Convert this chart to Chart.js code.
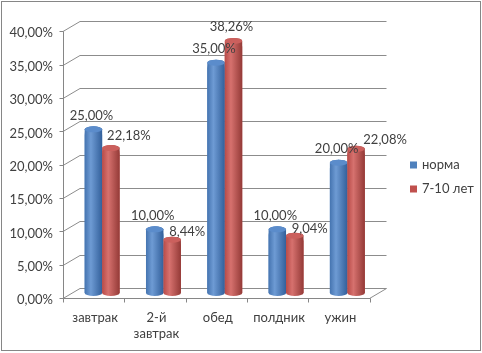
<!DOCTYPE html>
<html>
<head>
<meta charset="utf-8">
<script src="https://cdn.jsdelivr.net/npm/chart.js@4/dist/chart.umd.min.js"></script>
<style>
  html, body { margin: 0; padding: 0; background: #fff; }
  #wrap { width: 482px; height: 353px; position: relative; }
</style>
</head>
<body>
<div id="wrap"><canvas id="chart"></canvas></div>
<script>
const categories = ['завтрак', ['2-й', 'завтрак'], 'обед', 'полдник', 'ужин'];
const seriesNames = ['норма', '7-10 лет'];
const normaValues = [25, 10, 35, 10, 20];
const ageValues = [22.18, 8.44, 38.26, 9.04, 22.08];
const yMin = 0, yMax = 40, yStep = 5;

// hand nudges for the red labels (Excel had them dragged about)
const redLabelShift = [[20, 2], [17, 6], [0, 0], [17, 7], [31, 5.5]];

const palette = [
  { base: '#4F81BD', left: '#4574b0', light: '#6e9bd4', right: '#33609b', cap: '#5b8ccb' },
  { base: '#C0504D', left: '#b84b48', light: '#d6716e', right: '#943a37', cap: '#cb605d' }
];

Chart.defaults.font.family = 'Lato, "Liberation Sans", sans-serif';
Chart.defaults.font.size = 13;
Chart.defaults.color = '#404040';

const fmt = v => v.toFixed(2).replace('.', ',') + '%';
const DEPTH_X = 8.5, DEPTH_Y = 5;

const frame = {
  id: 'frame',
  beforeDatasetsDraw(chart) {
    const ctx = chart.ctx, y = chart.scales.y, x = chart.scales.x;
    const L = chart.chartArea.left, R = chart.chartArea.right;
    ctx.save();
    ctx.lineWidth = 1;
    ctx.strokeStyle = '#8c8c8c';
    for (let v = yMin; v <= yMax; v += yStep) {
      const py = y.getPixelForValue(v);
      ctx.beginPath();
      ctx.moveTo(L - DEPTH_X, Math.round(py + DEPTH_Y) + 0.5);
      ctx.lineTo(L + DEPTH_X, Math.round(py - DEPTH_Y) + 0.5);
      ctx.lineTo(R + DEPTH_X, Math.round(py - DEPTH_Y) + 0.5);
      ctx.stroke();
    }
    // right floor edge
    const p0 = y.getPixelForValue(0);
    ctx.beginPath();
    ctx.moveTo(R - DEPTH_X, Math.round(p0 + DEPTH_Y) + 0.5);
    ctx.lineTo(R + DEPTH_X, Math.round(p0 - DEPTH_Y) + 0.5);
    ctx.stroke();
    // front axes
    ctx.strokeStyle = '#868686';
    const fx = Math.round(L - DEPTH_X) + 0.5;
    const fy0 = Math.round(p0 + DEPTH_Y) + 0.5;
    const fyTop = Math.round(y.getPixelForValue(yMax) + DEPTH_Y) + 0.5;
    ctx.beginPath();
    ctx.moveTo(fx, fyTop); ctx.lineTo(fx, fy0);
    ctx.lineTo(Math.round(R - DEPTH_X) + 0.5, fy0);
    for (let v = yMin; v <= yMax; v += yStep) {
      const py = Math.round(y.getPixelForValue(v) + DEPTH_Y) + 0.5;
      ctx.moveTo(fx - 4, py); ctx.lineTo(fx, py);
    }
    const n = categories.length, w = (R - L) / n;
    for (let i = 0; i <= n; i++) {
      const px = Math.round(L + i * w - DEPTH_X) + 0.5;
      ctx.moveTo(px, fy0); ctx.lineTo(px, fy0 + 4);
    }
    ctx.stroke();
    ctx.restore();
  },
  afterDatasetsDraw(chart) {
    const ctx = chart.ctx;
    ctx.save();
    chart.data.datasets.forEach((ds, di) => {
      const pal = palette[di];
      chart.getDatasetMeta(di).data.forEach((bar, i) => {
        const cx = bar.x, rx = bar.width / 2, ry = 3;
        const top = bar.y, base = bar.base;
        const g = ctx.createLinearGradient(cx - rx, 0, cx + rx, 0);
        g.addColorStop(0, pal.left);
        g.addColorStop(0.35, pal.light);
        g.addColorStop(1, pal.right);
        ctx.beginPath();
        ctx.ellipse(cx, top + ry, rx, ry, 0, Math.PI, 0);
        ctx.lineTo(cx + rx, base);
        ctx.ellipse(cx, base, rx, ry, 0, 0, Math.PI);
        ctx.closePath();
        ctx.fillStyle = g;
        ctx.fill();
        ctx.beginPath();
        ctx.ellipse(cx, top + ry, rx, ry, 0, 0, Math.PI * 2);
        ctx.fillStyle = pal.cap;
        ctx.fill();
      });
    });
    // value labels
    ctx.font = '13px ' + Chart.defaults.font.family;
    ctx.fillStyle = '#404040';
    ctx.textAlign = 'center';
    ctx.textBaseline = 'middle';
    chart.data.datasets.forEach((ds, di) => {
      chart.getDatasetMeta(di).data.forEach((bar, i) => {
        let dx = -2, dy = -11;
        if (di === 1) { dx += redLabelShift[i][0]; dy += redLabelShift[i][1]; }
        ctx.fillText(fmt(ds.data[i]), bar.x + dx, bar.y + dy);
      });
    });
    // legend
    ctx.textAlign = 'left';
    chart.data.datasets.forEach((ds, di) => {
      const ly = 165 + di * 24;
      ctx.fillStyle = palette[di].base;
      ctx.fillRect(410, ly - 3.5, 7, 7);
      ctx.fillStyle = '#404040';
      ctx.fillText(ds.label, 422, ly);
    });
    // outer border
    ctx.strokeStyle = '#868686';
    ctx.lineWidth = 1;
    ctx.strokeRect(1.5, 1.5, 479, 349);
    ctx.restore();
  }
};

new Chart(document.getElementById('chart').getContext('2d'), {
  type: 'bar',
  data: {
    labels: categories,
    datasets: [
      { label: seriesNames[0], data: normaValues, backgroundColor: palette[0].base, borderRadius: 20, borderSkipped: 'bottom' },
      { label: seriesNames[1], data: ageValues, backgroundColor: palette[1].base, borderRadius: 20, borderSkipped: 'bottom' }
    ]
  },
  plugins: [frame],
  options: {
    responsive: true,
    maintainAspectRatio: false,
    animation: false,
    layout: { padding: { left: 0, top: 25.8, right: 104, bottom: 0 } },
    datasets: { bar: { categoryPercentage: 0.57, barPercentage: 1 } },
    plugins: { legend: { display: false }, tooltip: { enabled: false } },
    scales: {
      x: {
        grid: { display: false, drawTicks: false },
        border: { display: false },
        ticks: { padding: 17, labelOffset: -7, maxRotation: 0, autoSkip: false, font: { lineHeight: 1.23 } },
        afterFit(scale) { scale.height = 60; }
      },
      y: {
        min: yMin, max: yMax,
        grid: { display: false, drawTicks: false },
        border: { display: false },
        ticks: { stepSize: yStep, padding: 18.5, labelOffset: 7, callback: v => fmt(v) },
        afterFit(scale) { scale.width = 71.5; }
      }
    }
  }
});
</script>
</body>
</html>
